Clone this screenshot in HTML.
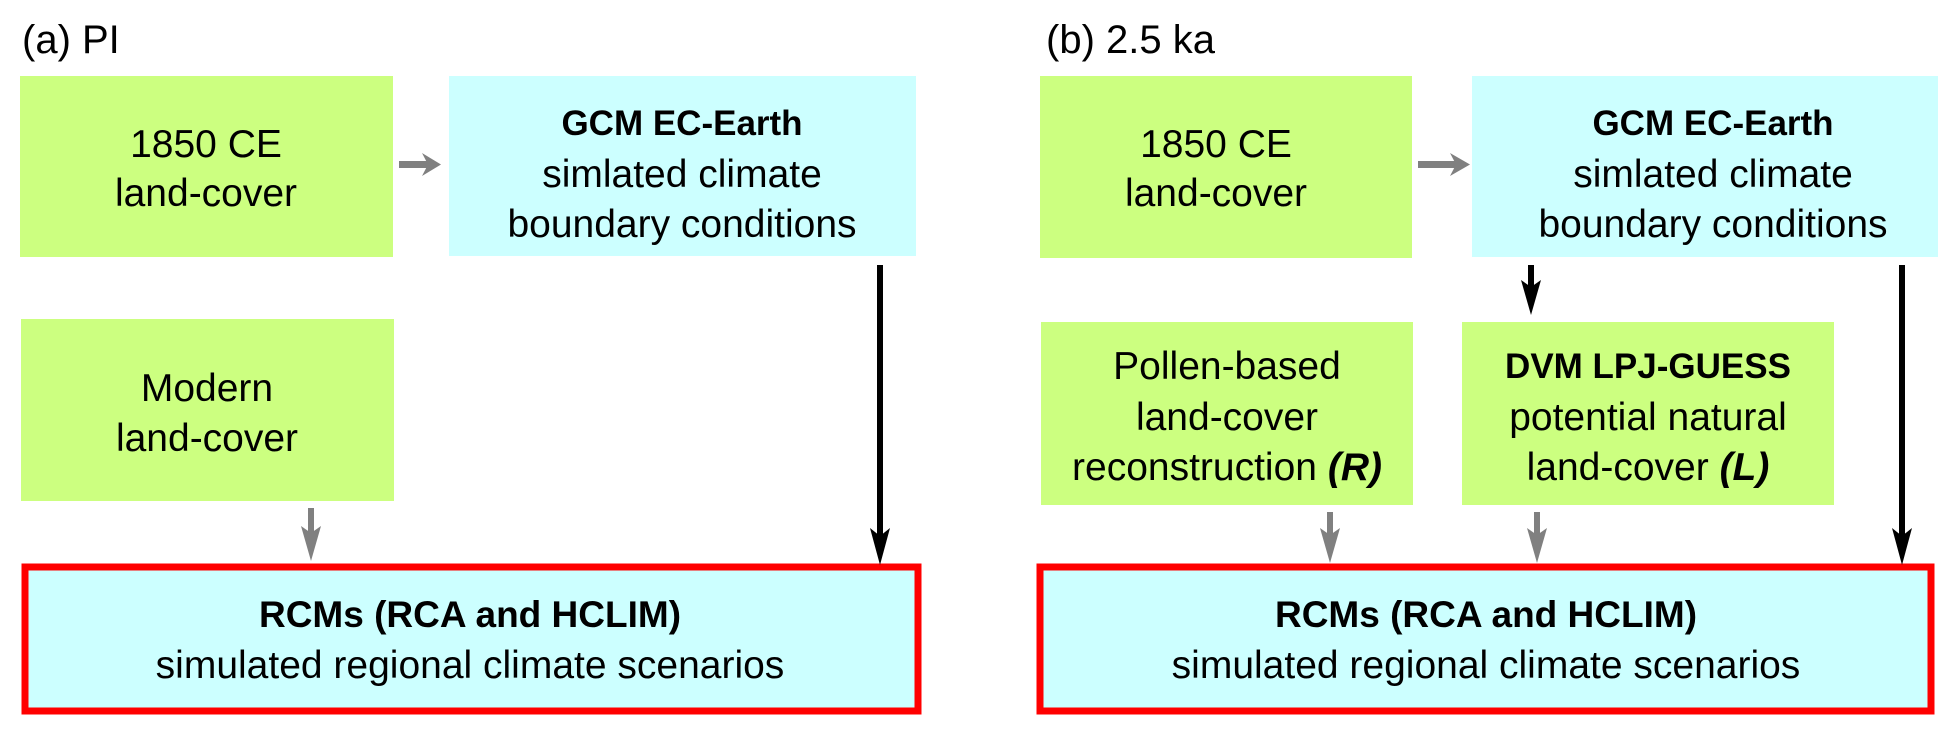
<!DOCTYPE html>
<html><head><meta charset="utf-8"><style>
html,body{margin:0;padding:0;background:#fff;width:1953px;height:730px;overflow:hidden}
svg text{font-family:"Liberation Sans",sans-serif;font-size:39px;fill:#000}
.b{font-weight:bold;font-size:35px}
.r{font-weight:bold;font-size:37px}
</style></head><body>
<svg width="1953" height="730" viewBox="0 0 1953 730" xmlns="http://www.w3.org/2000/svg">
<!-- Panel a -->
<text x="22" y="53" style="font-size:40px">(a) PI</text>
<rect x="20" y="76" width="373" height="181" fill="#ccff80"/>
<rect x="449" y="76" width="467" height="180" fill="#ccffff"/>
<rect x="21" y="319" width="373" height="182" fill="#ccff80"/>
<rect x="25" y="567" width="893" height="144" fill="#ccffff" stroke="#ff0000" stroke-width="7"/>
<text text-anchor="middle" x="206" y="157">1850 CE</text>
<text text-anchor="middle" x="206" y="206">land-cover</text>
<text text-anchor="middle" x="682" y="135" class="b">GCM EC-Earth</text>
<text text-anchor="middle" x="682" y="187">simlated climate</text>
<text text-anchor="middle" x="682" y="237">boundary conditions</text>
<text text-anchor="middle" x="207" y="401">Modern</text>
<text text-anchor="middle" x="207" y="451">land-cover</text>
<text text-anchor="middle" x="470" y="627" class="r">RCMs (RCA and HCLIM)</text>
<text text-anchor="middle" x="470" y="678">simulated regional climate scenarios</text>
<!-- arrows a -->
<rect x="399" y="161" width="30" height="7" fill="#808080"/>
<polygon points="422,153 441,164.5 422,176 428,164.5" fill="#808080"/>
<rect x="308" y="508" width="6" height="28" fill="#808080"/>
<polygon points="301,526 311,561 321,526 311,533" fill="#808080"/>
<rect x="877" y="265" width="6" height="275" fill="#000"/>
<polygon points="870,528 880,565 890,528 880,536" fill="#000"/>
<!-- Panel b -->
<text x="1046" y="53" style="font-size:40px">(b) 2.5 ka</text>
<rect x="1040" y="76" width="372" height="182" fill="#ccff80"/>
<rect x="1472" y="76" width="466" height="181" fill="#ccffff"/>
<rect x="1041" y="322" width="372" height="183" fill="#ccff80"/>
<rect x="1462" y="322" width="372" height="183" fill="#ccff80"/>
<rect x="1040" y="567" width="891" height="144" fill="#ccffff" stroke="#ff0000" stroke-width="7"/>
<text text-anchor="middle" x="1216" y="157">1850 CE</text>
<text text-anchor="middle" x="1216" y="206">land-cover</text>
<text text-anchor="middle" x="1713" y="135" class="b">GCM EC-Earth</text>
<text text-anchor="middle" x="1713" y="187">simlated climate</text>
<text text-anchor="middle" x="1713" y="237">boundary conditions</text>
<text text-anchor="middle" x="1227" y="379">Pollen-based</text>
<text text-anchor="middle" x="1227" y="430">land-cover</text>
<text text-anchor="middle" x="1227" y="480">reconstruction <tspan style="font-weight:bold" font-style="italic">(R)</tspan></text>
<text text-anchor="middle" x="1648" y="378" class="b">DVM LPJ-GUESS</text>
<text text-anchor="middle" x="1648" y="430">potential natural</text>
<text text-anchor="middle" x="1648" y="480">land-cover <tspan style="font-weight:bold" font-style="italic">(L)</tspan></text>
<text text-anchor="middle" x="1486" y="627" class="r">RCMs (RCA and HCLIM)</text>
<text text-anchor="middle" x="1486" y="678">simulated regional climate scenarios</text>
<!-- arrows b -->
<rect x="1418" y="161" width="38" height="7" fill="#808080"/>
<polygon points="1450,153 1470,164.5 1450,176 1456,164.5" fill="#808080"/>
<rect x="1528" y="265" width="6" height="22" fill="#000"/>
<polygon points="1521,280 1531,315 1541,280 1531,287" fill="#000"/>
<rect x="1899" y="265" width="6" height="275" fill="#000"/>
<polygon points="1892,528 1902,565 1912,528 1902,536" fill="#000"/>
<rect x="1327" y="512" width="6" height="25" fill="#808080"/>
<polygon points="1320,528 1330,563 1340,528 1330,535" fill="#808080"/>
<rect x="1534" y="512" width="6" height="25" fill="#808080"/>
<polygon points="1527,528 1537,563 1547,528 1537,535" fill="#808080"/>
</svg>
</body></html>
